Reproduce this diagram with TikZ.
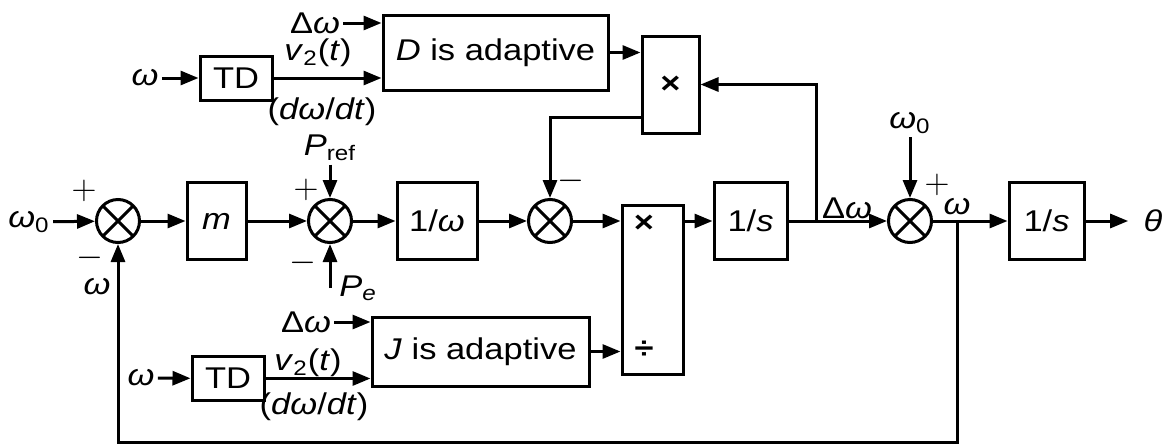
\documentclass[tikz,border=0pt]{standalone}
\usepackage{fontspec}
\setmainfont{Liberation Sans}[FakeStretch=1.15]
\usepackage{tikz}
\usetikzlibrary{arrows.meta,positioning,calc}

\begin{document}
\begin{tikzpicture}[
    x=0.5pt, y=-0.5pt,
    font=\fontsize{15}{17}\selectfont,
    line width=1.5pt,
    blk/.style={draw, minimum height=38.5pt, inner sep=0pt},
    opbox/.style={draw, inner sep=0pt},
    sumj/.style={draw, circle, minimum size=21.5pt, inner sep=0pt,
        path picture={\draw (path picture bounding box.north west) -- (path picture bounding box.south east)
            (path picture bounding box.north east) -- (path picture bounding box.south west);}},
    lbl/.style={inner sep=1pt},
    sgn/.style={inner sep=0pt, font=\fontsize{17}{17}\selectfont},
    sig/.style={-{Triangle[length=9pt, width=7pt]}}
]
\useasboundingbox (0,0) rectangle (1171,445);

\node[lbl] (w0) at (29,222) {\textit{ω}\textsubscript{0}};
\node[sumj] (s1) at (118,221) {};
\node[blk, minimum width=29.5pt] (m) at (216.5,221) {\textit{m}};
\node[sumj] (s2) at (330,221) {};
\node[blk, minimum width=40pt] (inv) at (437,221) {1/\textit{ω}};
\node[sumj] (s3) at (550,221) {};
\node[opbox, minimum width=30.5pt, minimum height=84.5pt] (dv) at (652.5,289.5) {};
\node (dvmul) at (644,224) {\textbf{×}};
\node (dvdiv) at (644,350) {\textbf{÷}};
\node[blk, minimum width=36.5pt] (int1) at (750.5,221) {1/\textit{s}};
\node[sumj] (s4) at (910,221) {};
\node[blk, minimum width=37.5pt] (int2) at (1046.5,221) {1/\textit{s}};
\node[lbl] (th) at (1153,221) {\textit{θ}};

\node[opbox, minimum width=112.5pt, minimum height=37.5pt] (dad) at (495.5,52.5) {\textit{D} is adaptive};
\node[opbox, minimum width=28.5pt, minimum height=48.5pt] (mul) at (670.5,84.5) {\textbf{×}};
\node[opbox, minimum width=36pt, minimum height=22pt] (td1) at (236,78) {TD};
\node[lbl] (wa) at (145,78) {\textit{ω}};
\node[lbl] (dwa) at (315,23) {Δ\textit{ω}};
\node[lbl] (va) at (318,53) {\textit{v}\textsubscript{2}(\textit{t})};
\node[lbl] (da) at (322,112) {(\textit{dω}/\textit{dt})};

\node[opbox, minimum width=108.5pt, minimum height=34.5pt] (jad) at (480.5,351.5) {\textit{J} is adaptive};
\node[opbox, minimum width=36pt, minimum height=22pt] (td2) at (228,378.5) {TD};
\node[lbl] (wb) at (141,378) {\textit{ω}};
\node[lbl] (dwb) at (306,322) {Δ\textit{ω}};
\node[lbl] (vb) at (308,363) {\textit{v}\textsubscript{2}(\textit{t})};
\node[lbl] (db) at (314,407) {(\textit{dω}/\textit{dt})};

\node[lbl] (pref) at (330,148) {\textit{P}\textsubscript{ref}};
\node[lbl] (pe) at (358,288) {\textit{P}\textsubscript{\textit{e}}};
\node[lbl] (wfb) at (97,287) {\textit{ω}};
\node[lbl] (w0b) at (910,123) {\textit{ω}\textsubscript{0}};
\node[lbl] (dwc) at (847,208) {Δ\textit{ω}};
\node[lbl] (wc) at (957,207) {\textit{ω}};

\node[sgn] (p1) at (84,191) {$+$};
\node[sgn] (n1) at (90,258) {$-$};
\node[sgn] (p2) at (306,190) {$+$};
\node[sgn] (n2) at (303,263) {$-$};
\node[sgn] (n3) at (571,181) {$-$};
\node[sgn] (p4) at (937,185) {$+$};

\coordinate (br1) at (816,221);
\coordinate (br2) at (957,221);
\coordinate (fb) at (957,442);
\coordinate (pein) at (s2 |- pe);

\draw[sig] (w0) -- (s1);
\draw[sig] (s1) -- (m);
\draw[sig] (m) -- (s2);
\draw[sig] (s2) -- (inv);
\draw[sig] (inv) -- (s3);
\draw[sig] (s3) -- (s3 -| dv.west);
\draw[sig] (dv.east |- s3) -- (int1);
\draw[sig] (int1) -- (s4);
\draw[sig] (s4) -- (int2);
\draw[sig, shorten >=6pt] (int2) -- (th);
\draw[sig] (pref) -- (s2);
\draw[sig] (pein) -- (s2.south);
\draw[sig] (w0b) -- (s4);

\draw[sig] (wa) -- (td1);
\draw[sig] (td1) -- (td1 -| dad.west);
\draw[sig] (dwa) -- (dwa -| dad.west);
\draw[sig] (dad) -- (dad -| mul.west);
\draw[sig] (br1) |- (mul.east);
\draw[sig] ($(mul.south west)+(0,-17)$) -| (s3.north);

\draw[sig] (wb) -- (td2);
\draw[sig] (td2) -- (td2 -| jad.west);
\draw[sig] (dwb) -- (dwb -| jad.west);
\draw[sig] (jad) -- (jad -| dv.west);

\draw[sig] (br2) -- (fb) -| (s1.south);
\end{tikzpicture}
\end{document}
